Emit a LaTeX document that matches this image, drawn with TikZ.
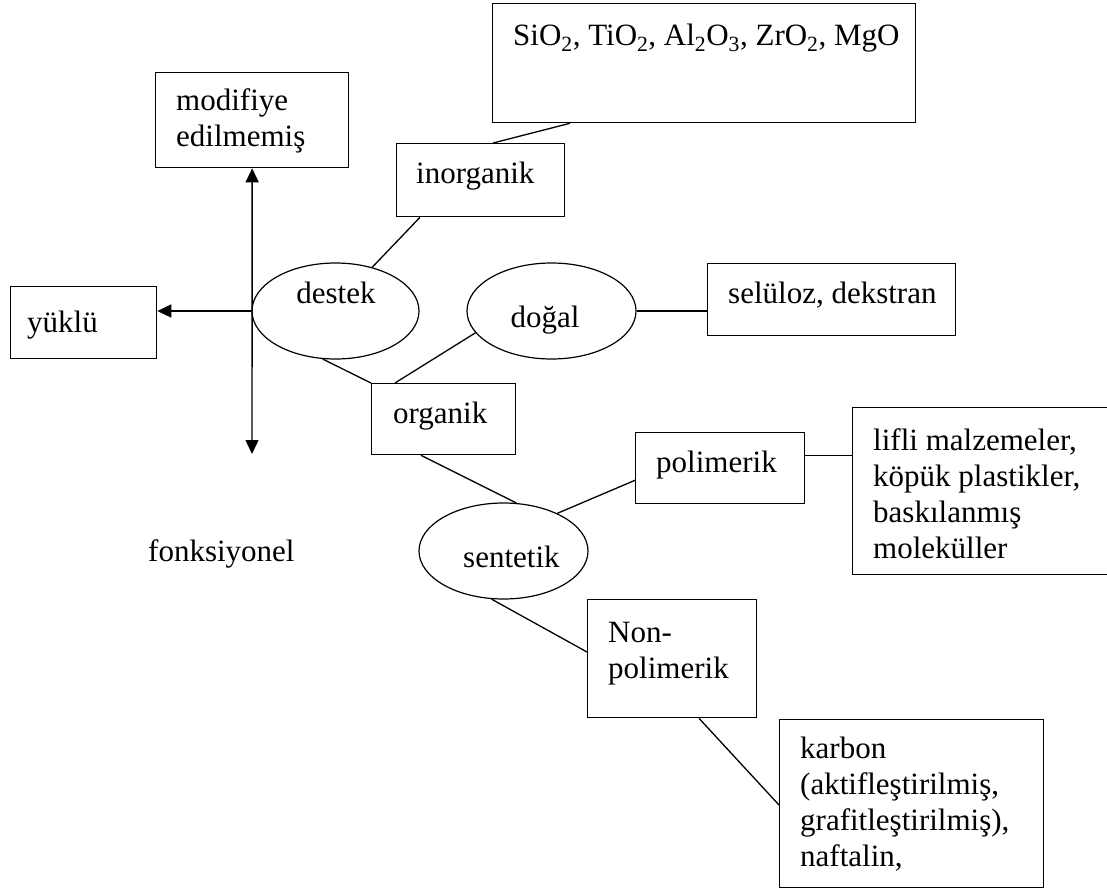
\documentclass[tikz,border=0pt]{standalone}
\usepackage{fontspec}
\setmainfont{Liberation Serif}
\usetikzlibrary{shapes.geometric,arrows.meta}
\tikzset{
  box/.style={draw, line width=1.3pt, rectangle, inner sep=0pt, anchor=north west},
  oval/.style={draw, line width=1.2pt, ellipse, inner sep=0pt, minimum width=168pt, minimum height=96pt},
  txt/.style={inner sep=0pt, font=\fontsize{31}{36}\selectfont, anchor=base west},
  mtxt/.style={inner sep=0pt, font=\fontsize{31}{36}\selectfont, anchor=north west, align=left},
  conn/.style={line width=1.3pt},
  arr/.style={line width=1.4pt, -{Triangle[length=14pt,width=13pt]}},
  darr/.style={line width=1.4pt, {Triangle[length=14pt,width=13pt]}-{Triangle[length=14pt,width=13pt]}}
}
\begin{document}
\begin{tikzpicture}[x=1pt,y=-1pt]
\useasboundingbox (0,0) rectangle (1107,888);
\clip (0,0) rectangle (1107,888);
% boxes
\node[box, minimum width=423pt, minimum height=119pt] (sio) at (492,3) {};
\node[box, minimum width=193pt, minimum height=95pt] (mod) at (155,72) {};
\node[box, minimum width=168pt, minimum height=73pt] (ino) at (396,143) {};
\node[box, minimum width=146pt, minimum height=72pt] (yuk) at (10,286) {};
\node[box, minimum width=248pt, minimum height=72pt] (sel) at (707,263) {};
\node[box, minimum width=144pt, minimum height=71pt] (org) at (371,383) {};
\node[box, minimum width=169pt, minimum height=71pt] (pol) at (635,432) {};
\node[box, minimum width=280pt, minimum height=167pt] (lif) at (852,407) {};
\node[box, minimum width=169pt, minimum height=118pt] (nonp) at (587,599) {};
\node[box, minimum width=264pt, minimum height=168pt] (karb) at (779,719) {};
% ellipses
\node[oval, minimum width=167pt] (destek) at (335.5,311) {};
\node[oval, minimum width=169pt] (dogal) at (551.5,311) {};
\node[oval, minimum width=169pt] (sent) at (503.5,551) {};
\coordinate (vb) at (252,454);
% texts
\node[txt] (tsio) at (513,46) {SiO\textsubscript{2}, TiO\textsubscript{2}, Al\textsubscript{2}O\textsubscript{3}, ZrO\textsubscript{2}, MgO};
\node[mtxt] (tmod) at (176,84.8) {\strut modifiye\\edilmemiş};
\node[txt] (tino) at (416,183) {inorganik};
\node[txt] (tyuk) at (27,332) {yüklü};
\node[txt, anchor=base] (tdes) at (336,303) {destek};
\node[txt, anchor=base] (tdog) at (545,327) {doğal};
\node[txt] (tsel) at (728,303) {selüloz, dekstran};
\node[txt] (torg) at (393,423) {organik};
\node[txt] (tpol) at (656,472) {polimerik};
\node[mtxt] (tlif) at (873,424.8) {\strut lifli malzemeler,\\köpük plastikler,\\baskılanmış\\moleküller};
\node[txt] (tsen) at (463,567) {sentetik};
\node[txt] (tfon) at (148,561) {fonksiyonel};
\node[mtxt] (tnon) at (608,616.8) {\strut Non-\\polimerik};
\node[mtxt] (tkar) at (800,732.8) {\strut karbon\\(aktifleştirilmiş,\\grafitleştirilmiş),\\naftalin,};
% connectors
\draw[conn] ([xshift=97pt]ino.north west) -- ([xshift=78pt]sio.south west);
\draw[conn] ([xshift=24pt]ino.south west) -- (destek.50);
\draw[conn] (destek.255) -- (org.north west);
\draw[conn] ([xshift=24pt]org.north west) -- (dogal.196);
\draw[conn] (dogal.east) -- (dogal.east -| sel.west);
\draw[conn] ([xshift=50pt]org.south west) -- (sent.75);
\draw[conn] (sent.35) -- ([yshift=24pt]pol.south west);
\draw[conn] ([yshift=12.5pt]pol.east) -- ([yshift=12.5pt]pol.east -| lif.west);
\draw[conn] (sent.256) -- ([yshift=-53pt]nonp.north west);
\draw[conn] ([xshift=112pt]nonp.south west) -- ([yshift=-86pt]karb.north west);
\draw[darr] (mod.south) -- (vb);
\draw[arr] (destek.west) -- (destek.west -| yuk.east);
\end{tikzpicture}
\end{document}
